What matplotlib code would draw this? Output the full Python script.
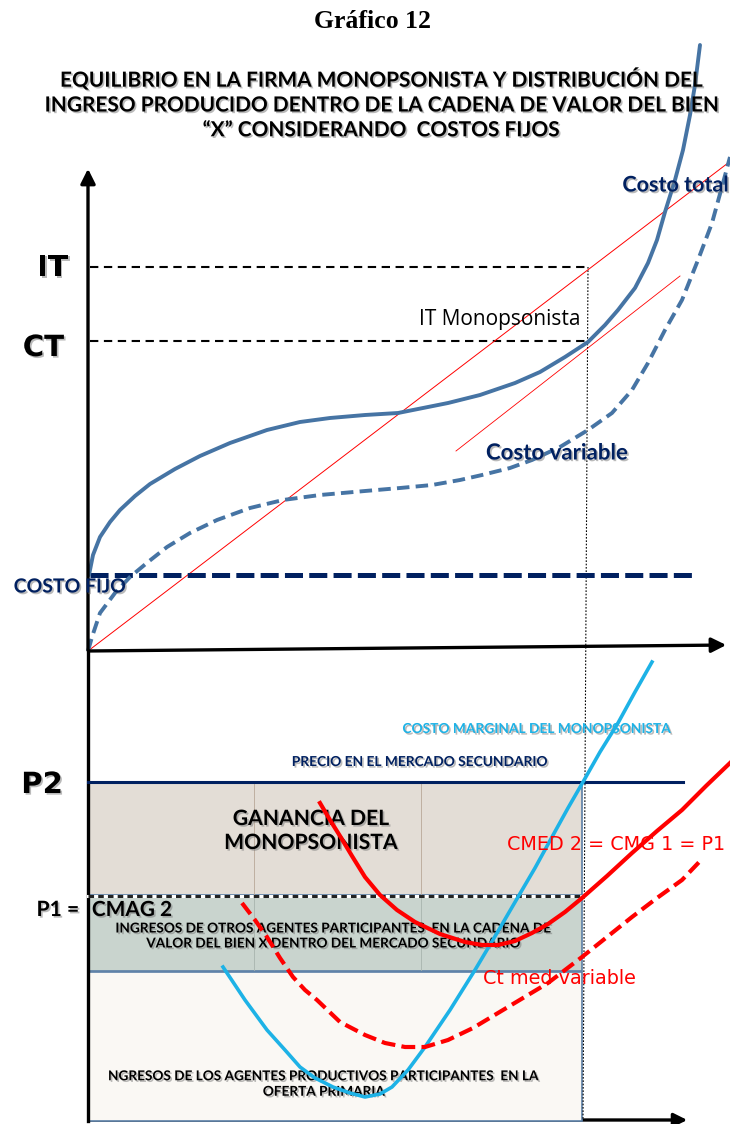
import matplotlib
matplotlib.use("Agg")
import matplotlib.pyplot as plt
import matplotlib.patheffects as pe
from matplotlib.patches import Rectangle

plt.rcParams["lines.scale_dashes"] = False

# ---- curve points (picture coordinates, y grows downward) ----
ct_x = [89, 93, 100, 110, 120, 135, 150, 175, 200, 230, 267, 300, 330, 365, 398, 448,
        480, 515, 540, 565, 588, 605, 618, 635, 648, 657, 665, 675, 683, 690, 695, 700]
ct_y = [575, 555, 537, 522, 510, 496, 484, 469, 456, 443, 430, 422, 418, 415, 413, 403,
        395, 383, 372, 357, 342, 325, 310, 288, 263, 240, 212, 180, 150, 115, 85, 45]

cv_x = [88, 92, 100, 115, 130, 148, 167, 190, 217, 250, 283, 320, 365, 400, 432, 460,
        482, 510, 532, 560, 588, 612, 632, 648, 665, 682, 698, 712, 723, 730]
cv_y = [651, 637, 613, 593, 577, 562, 547, 533, 520, 508, 500, 495, 491, 488, 485, 480,
        475, 468, 460, 447, 430, 413, 390, 363, 330, 300, 260, 223, 183, 157]

it_line_x = [88, 728]
it_line_y = [651, 163]
tangent_x = [456, 680]
tangent_y = [451, 276]

cmg_x = [223, 245, 267, 285, 300, 315, 333, 350, 365, 380, 392, 408, 425, 450, 475, 497,
         518, 535, 552, 568, 583, 600, 618, 635, 652]
cmg_y = [967, 1000, 1030, 1050, 1067, 1078, 1087, 1093, 1097, 1094, 1087, 1070, 1047,
         1010, 970, 933, 897, 868, 837, 808, 782, 752, 723, 692, 662]

cmed2_x = [320, 330, 340, 352, 365, 380, 397, 415, 440, 465, 482, 498, 515, 532, 548,
           565, 582, 607, 632, 657, 682, 706, 730]
cmed2_y = [803, 820, 836, 856, 877, 895, 910, 922, 934, 942, 945, 945, 941, 933, 924,
           912, 898, 876, 853, 831, 810, 786, 763]

ctmv_x = [242, 255, 267, 280, 293, 305, 317, 340, 365, 385, 405, 425, 448, 473, 498,
          523, 548, 565, 582, 607, 632, 657, 682, 703]
ctmv_y = [903, 920, 937, 958, 977, 990, 1000, 1022, 1035, 1043, 1047, 1047, 1040, 1028,
          1013, 998, 983, 970, 957, 937, 917, 898, 880, 858]

levels_y = {"IT": 267, "CT": 341, "CF": 575, "P2": 782, "P1": 896}
q_x = 588

STEEL = "#4674a4"
NAVY = "#002060"
RED = "#ff0000"
SKY = "#1db2e6"

fig = plt.figure(figsize=(7.3, 11.24), dpi=100)
ax = fig.add_axes([0, 0, 1, 1])
ax.set_xlim(0, 730)
ax.set_ylim(1124, 0)
ax.axis("off")

shadow = [pe.SimplePatchShadow(offset=(1.2, -1.2), shadow_rgbFace="#777777", alpha=0.5), pe.Normal()]

# ---- titles ----
ax.text(373, 22, "Gráfico 12", ha="center", va="center", fontsize=18.5,
        family="Liberation Serif", fontweight="bold")
ax.text(381, 104, "EQUILIBRIO EN LA FIRMA MONOPSONISTA Y DISTRIBUCIÓN DEL\n"
        "INGRESO PRODUCIDO DENTRO DE LA CADENA DE VALOR DEL BIEN\n"
        "“X” CONSIDERANDO  COSTOS FIJOS", ha="center", va="center",
        fontsize=15, family="Lato", fontweight="bold", linespacing=1.3,
        path_effects=shadow)

# ---- upper panel ----
ax.annotate("", xy=(88, 166), xytext=(88, 653),
            arrowprops=dict(arrowstyle="-|>", lw=2.4, color="black", mutation_scale=22))
ax.annotate("", xy=(729, 645), xytext=(86, 651),
            arrowprops=dict(arrowstyle="-|>", lw=2.4, color="black", mutation_scale=22))

ax.plot([90, q_x], [levels_y["IT"]] * 2, color="black", lw=1.5, ls=(0, (6, 4)))
ax.plot([90, q_x], [levels_y["CT"]] * 2, color="black", lw=1.5, ls=(0, (6, 4)))
ax.plot([q_x, 583], [levels_y["IT"], 1120], color="black", lw=0.8, ls=(0, (1.2, 1.2)))

ax.plot(it_line_x, it_line_y, color=RED, lw=0.7)
ax.plot(tangent_x, tangent_y, color=RED, lw=0.6)

ax.plot([90, 693], [levels_y["CF"]] * 2, color=NAVY, lw=3.6, ls=(0, (13, 4.5)))
ax.plot(cv_x, cv_y, color=STEEL, lw=2.8, ls=(0, (9, 4.5)), solid_joinstyle="round")
ax.plot(ct_x, ct_y, color=STEEL, lw=2.8, solid_joinstyle="round", solid_capstyle="round")

ax.text(68, 268, "IT", ha="right", va="center", fontsize=21, fontweight="bold", path_effects=shadow)
ax.text(64, 348, "CT", ha="right", va="center", fontsize=21, fontweight="bold", path_effects=shadow)
ax.text(729, 185, "Costo total", ha="right", va="center", fontsize=15.5, family="Lato",
        fontweight="bold", color=NAVY, path_effects=shadow)
ax.text(500, 320, "IT Monopsonista", ha="center", va="center", fontsize=15, family="Open Sans")
ax.text(557, 453, "Costo variable", ha="center", va="center", fontsize=16, family="Lato",
        fontweight="bold", color=NAVY, path_effects=shadow)
ax.text(70, 587, "COSTO FIJO", ha="center", va="center", fontsize=14, family="Lato",
        fontweight="bold", color=NAVY, path_effects=shadow)

# ---- lower panel: income boxes ----
box_left, box_right = 88, 582
boxes = [(782, 895, "#e3ddd6"), (897, 971, "#c9d4ce"), (972, 1121, "#faf8f4")]
for top, bottom, col in boxes:
    ax.add_patch(Rectangle((box_left, top), box_right - box_left, bottom - top,
                           facecolor=col, edgecolor="#5b7fa6", lw=1.2, zorder=1))
for xl in [254, 421]:
    ax.plot([xl, xl], [783, 894], color="#b8a898", lw=0.6, zorder=1)
    ax.plot([xl, xl], [898, 970], color="#a8b4ae", lw=0.6, zorder=1)

ax.plot([88, 88], [651, 1121], color="black", lw=2.4, zorder=3)
ax.annotate("", xy=(690, 1120), xytext=(86, 1120),
            arrowprops=dict(arrowstyle="-|>", lw=2.4, color="black", mutation_scale=20), zorder=0)
ax.plot([88, 683], [levels_y["P2"]] * 2, color=NAVY, lw=2.2, zorder=3)
ax.plot([88, box_right], [levels_y["P1"]] * 2, color="white", lw=2.2, zorder=3)
ax.plot([88, box_right], [levels_y["P1"]] * 2, color="#222222", lw=2.2, ls=(0, (4, 3)), zorder=3)

ax.plot(cmg_x, cmg_y, color=SKY, lw=2.6, solid_joinstyle="round", zorder=5)
ax.plot(cmed2_x, cmed2_y, color=RED, lw=3.0, solid_joinstyle="round", zorder=5)
ax.plot(ctmv_x, ctmv_y, color=RED, lw=3.0, ls=(0, (10, 4.5)), zorder=5)

ax.text(537, 729, "COSTO MARGINAL DEL MONOPSONISTA", ha="center", va="center", fontsize=9.9,
        family="Lato", fontweight="bold", color=SKY, path_effects=shadow)
ax.text(420, 762, "PRECIO EN EL MERCADO SECUNDARIO", ha="center", va="center", fontsize=9.9,
        family="Lato", fontweight="bold", color=NAVY, path_effects=shadow)
ax.text(42, 785, "P2", ha="center", va="center", fontsize=21, fontweight="bold", path_effects=shadow)
ax.text(311, 831, "GANANCIA DEL\nMONOPSONISTA", ha="center", va="center", fontsize=15.2,
        family="Lato", fontweight="bold", linespacing=1.25, path_effects=shadow, zorder=4)
ax.text(616, 845, "CMED 2 = CMG 1 = P1", ha="center", va="center", fontsize=13.8, color=RED, zorder=6)
ax.text(58, 910, "P1 =", ha="center", va="center", fontsize=15.2, family="Lato",
        fontweight="bold", path_effects=shadow, zorder=6)
ax.text(132, 910, "CMAG 2", ha="center", va="center", fontsize=15, family="Lato",
        fontweight="bold", path_effects=shadow, zorder=6)
ax.text(334, 936, "INGRESOS DE OTROS AGENTES PARTICIPANTES  EN LA CADENA DE\n"
        "VALOR DEL BIEN X DENTRO DEL MERCADO SECUNDARIO", ha="center", va="center",
        fontsize=9.8, family="Lato", fontweight="bold", linespacing=1.3,
        path_effects=shadow, zorder=4)
ax.text(559, 979, "Ct med variable", ha="center", va="center", fontsize=13.8, color=RED, zorder=6)
ax.text(324, 1084, "NGRESOS DE LOS AGENTES PRODUCTIVOS PARTICIPANTES  EN LA\n"
        "OFERTA PRIMARIA", ha="center", va="center", fontsize=9.8, family="Lato",
        fontweight="bold", linespacing=1.35, path_effects=shadow, zorder=4)

fig.savefig("out.png", dpi=100)
